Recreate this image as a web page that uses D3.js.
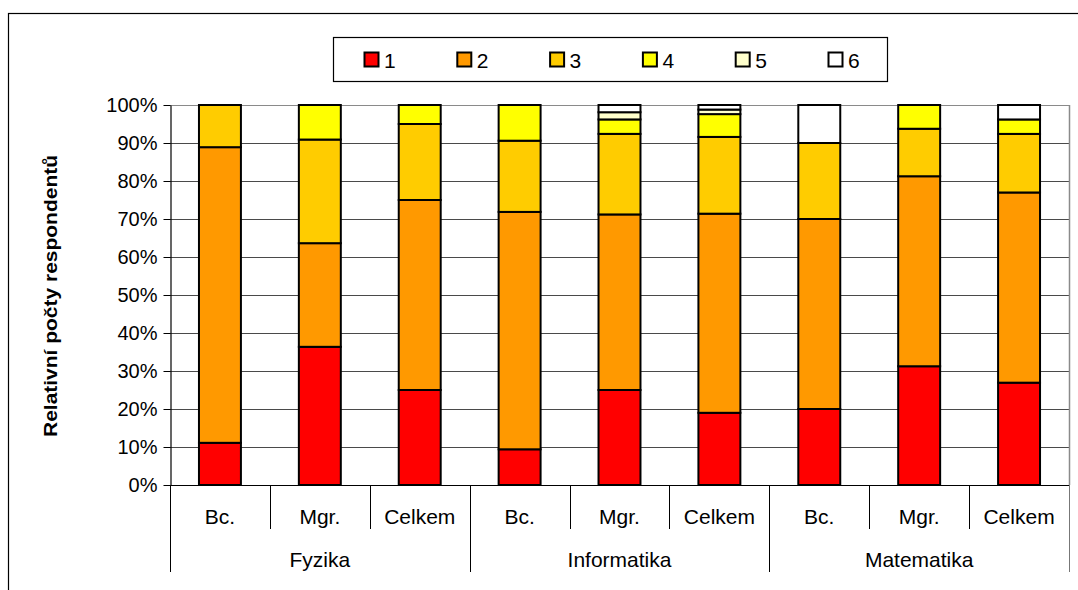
<!DOCTYPE html>
<html>
<head>
<meta charset="utf-8">
<script src="https://cdn.jsdelivr.net/npm/d3@7"></script>
<style>
  html, body { margin: 0; padding: 0; background: #fff; }
  svg { display: block; font-family: "Liberation Sans", Arial, sans-serif; }
</style>
</head>
<body>
<svg id="chart" width="1078" height="590"></svg>
<script>
// Faculties and study levels
const groups = ["Fyzika", "Informatika", "Matematika"];
const levels = ["Bc.", "Mgr.", "Celkem"];

// Share of respondents (%) per answer grade, one value per faculty/level bar
const grade1 = [11.1, 36.4, 25.0, 9.4, 25.0, 19.0, 20.0, 31.25, 26.9];
const grade2 = [77.8, 27.3, 50.0, 62.5, 46.2, 52.4, 50.0, 50.0, 50.0];
const grade3 = [11.1, 27.3, 20.0, 18.75, 21.2, 20.2, 20.0, 12.5, 15.4];
const grade4 = [0, 9.1, 5.0, 9.4, 3.8, 6.0, 0, 6.25, 3.8];
const grade5 = [0, 0, 0, 0, 1.9, 1.2, 0, 0, 0];
const grade6 = [0, 0, 0, 0, 1.9, 1.2, 10.0, 0, 3.8];

const seriesNames = ["1", "2", "3", "4", "5", "6"];
const seriesColors = ["#FF0000", "#FF9900", "#FFCC00", "#FFFF00", "#FFFFCC", "#FFFFFF"];
const yTicks = [0, 0.1, 0.2, 0.3, 0.4, 0.5, 0.6, 0.7, 0.8, 0.9, 1.0];
const yTitle = "Relativní počty respondentů";

const seriesValues = [grade1, grade2, grade3, grade4, grade5, grade6];

// One row per bar
const rows = [];
groups.forEach((g, gi) => levels.forEach((l, li) => {
  const i = gi * levels.length + li;
  const row = { key: g + "|" + l, group: g, level: l };
  seriesNames.forEach((s, si) => { row[s] = seriesValues[si][i]; });
  rows.push(row);
}));

const svg = d3.select("#chart");

// Outer chart frame
svg.append("rect")
  .attr("x", 8.5).attr("y", 13.5)
  .attr("width", 1200).attr("height", 800)
  .attr("fill", "none").attr("stroke", "#000").attr("stroke-width", 1.2);

const plot = { left: 170, right: 1069, top: 105, bottom: 485 };

const x = d3.scaleBand()
  .domain(rows.map(d => d.key))
  .range([plot.left, plot.right])
  .paddingInner(0.58).paddingOuter(0.29);

const y = d3.scaleLinear().domain([0, 1]).range([plot.bottom, plot.top]);

// Horizontal gridlines
svg.append("g")
  .selectAll("line")
  .data(yTicks.slice(1))
  .join("line")
  .attr("x1", plot.left).attr("x2", plot.right)
  .attr("y1", d => Math.round(y(d)) + 0.5).attr("y2", d => Math.round(y(d)) + 0.5)
  .attr("stroke", d => d === 1 ? "#8a8a8a" : "#4a4a4a")
  .attr("stroke-width", 1.2);

// Right border of the plot area
svg.append("line")
  .attr("x1", plot.right + 0.5).attr("x2", plot.right + 0.5)
  .attr("y1", plot.top).attr("y2", plot.bottom)
  .attr("stroke", "#8a8a8a").attr("stroke-width", 1.5);

// Stacked bars, normalised to 100 %
const stack = d3.stack().keys(seriesNames).offset(d3.stackOffsetExpand);
const layers = stack(rows);

svg.append("g")
  .selectAll("g")
  .data(layers)
  .join("g")
  .attr("fill", (d, i) => seriesColors[i])
  .selectAll("rect")
  .data(d => d.filter(p => p[1] - p[0] > 1e-6))
  .join("rect")
  .attr("x", d => x(d.data.key))
  .attr("width", x.bandwidth())
  .attr("y", d => y(d[1]))
  .attr("height", d => y(d[0]) - y(d[1]))
  .attr("stroke", "#000")
  .attr("stroke-width", 2);

// Y axis
const yAxis = d3.axisLeft(y)
  .tickValues(yTicks)
  .tickFormat(d3.format(".0%"))
  .tickSize(7)
  .tickSizeOuter(0);

const yg = svg.append("g")
  .attr("transform", `translate(${plot.left + 0.5},0)`)
  .call(yAxis);
yg.select(".domain").attr("stroke", "#000").attr("stroke-width", 1.2);
yg.selectAll(".tick line").attr("stroke", "#000");
yg.selectAll(".tick text")
  .attr("x", -13)
  .attr("font-size", 20)
  .attr("font-family", "Liberation Sans, Arial, sans-serif")
  .attr("fill", "#000");

// Y axis title
svg.append("text")
  .attr("transform", `translate(57,${(plot.top + plot.bottom) / 2 + 1}) rotate(-90)`)
  .attr("text-anchor", "middle")
  .attr("font-size", 18)
  .attr("font-weight", "bold")
  .attr("textLength", 282)
  .attr("lengthAdjust", "spacingAndGlyphs")
  .text(yTitle);

// X axis: baseline, level labels and group labels with separators
svg.append("line")
  .attr("x1", plot.left).attr("x2", plot.right)
  .attr("y1", plot.bottom + 0.5).attr("y2", plot.bottom + 0.5)
  .attr("stroke", "#000").attr("stroke-width", 1.2);

const boundaries = d3.range(rows.length + 1).map(i => plot.left + i * (plot.right - plot.left) / rows.length);

svg.append("g")
  .selectAll("line")
  .data(boundaries)
  .join("line")
  .attr("x1", d => Math.round(d) + 0.5).attr("x2", d => Math.round(d) + 0.5)
  .attr("y1", plot.bottom)
  .attr("y2", (d, i) => (i % levels.length === 0) ? 572 : 529)
  .attr("stroke", (d, i) => i === rows.length ? "#777" : "#000")
  .attr("stroke-width", 1);

svg.append("g")
  .selectAll("text")
  .data(rows)
  .join("text")
  .attr("x", d => x(d.key) + x.bandwidth() / 2)
  .attr("y", 524)
  .attr("text-anchor", "middle")
  .attr("font-size", 21)
  .text(d => d.level);

svg.append("g")
  .selectAll("text")
  .data(groups)
  .join("text")
  .attr("x", (d, i) => (boundaries[i * 3] + boundaries[i * 3 + 3]) / 2)
  .attr("y", 567)
  .attr("text-anchor", "middle")
  .attr("font-size", 21)
  .text(d => d);

// Legend
const legend = svg.append("g");
legend.append("rect")
  .attr("x", 333.5).attr("y", 37.5)
  .attr("width", 554).attr("height", 44)
  .attr("fill", "#fff").attr("stroke", "#000").attr("stroke-width", 1.2);

const legendX = d3.scalePoint().domain(seriesNames).range([364, 828]);
const items = legend.selectAll("g.item")
  .data(seriesNames)
  .join("g")
  .attr("class", "item")
  .attr("transform", d => `translate(${legendX(d)},52)`);
items.append("rect")
  .attr("x", 0.5).attr("y", 0.5)
  .attr("width", 14).attr("height", 14)
  .attr("fill", (d, i) => seriesColors[i])
  .attr("stroke", "#000").attr("stroke-width", 2);
items.append("text")
  .attr("x", 20).attr("y", 15.5)
  .attr("font-size", 21)
  .text(d => d);
</script>
</body>
</html>
